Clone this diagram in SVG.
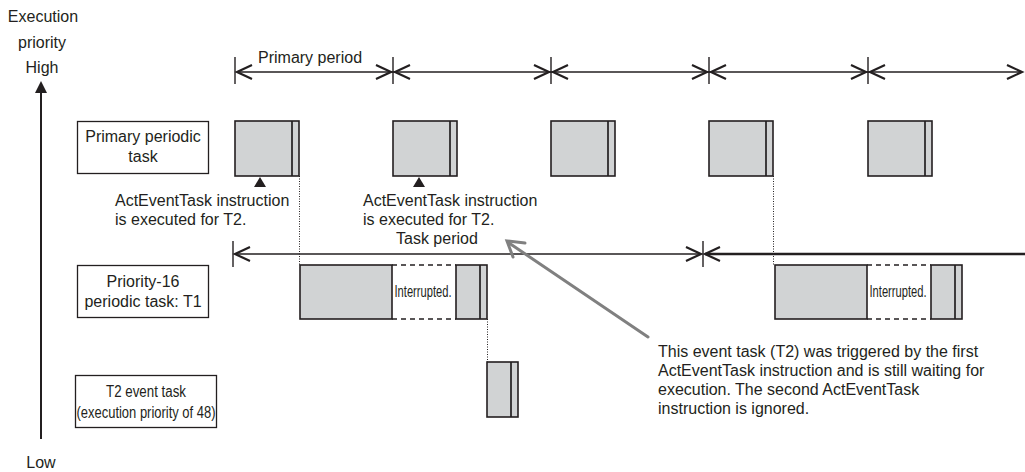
<svg xmlns="http://www.w3.org/2000/svg" width="1025" height="472" viewBox="0 0 1025 472">
<defs>
<style>
text{font-family:"Liberation Sans",Arial,Helvetica,sans-serif;font-size:16px;fill:#231f20}
.c{text-anchor:middle}
.lbl{fill:#fff;stroke:#231f20;stroke-width:1.3}
.blk{fill:#d1d3d4;stroke:#231f20;stroke-width:1.6}
.ln{stroke:#231f20;stroke-width:1.7;fill:none}
.tick{stroke:#231f20;stroke-width:1.4}
.dot{stroke:#231f20;stroke-width:1;stroke-dasharray:1 1.5;fill:none}
.dash{stroke:#231f20;stroke-width:1.3;stroke-dasharray:5 4;fill:none}
.ah{stroke:#231f20;stroke-width:2.2;fill:none}
</style>
<g id="ahR"><path class="ah" d="M-15,-7 L0,0 L-15,7"/></g>
<g id="ahL"><path class="ah" d="M15,-7 L0,0 L15,7"/></g>
<g id="pblk"><rect class="blk" x="0" y="0" width="64" height="55"/><line class="ln" x1="57" y1="0" x2="57" y2="55"/></g>
</defs>

<!-- axis -->
<g id="axis">
<text class="c" x="43" y="22">Execution</text>
<text class="c" x="42" y="48">priority</text>
<text class="c" x="42" y="73">High</text>
<line x1="41" y1="90" x2="41" y2="439" stroke="#231f20" stroke-width="2"/>
<polygon points="41,81 35,93 47,93" fill="#231f20"/>
<text class="c" x="41" y="468">Low</text>
</g>

<!-- labels -->
<g id="lbl-primary">
<rect class="lbl" x="77.5" y="121.5" width="131" height="52"/>
<text class="c" x="143" y="142">Primary periodic</text>
<text class="c" x="143" y="162">task</text>
</g>
<g id="lbl-t1">
<rect class="lbl" x="77.5" y="265.5" width="131" height="52"/>
<text class="c" x="143" y="287">Priority-16</text>
<text class="c" x="143" y="307">periodic task: T1</text>
</g>
<g id="lbl-t2">
<rect class="lbl" x="75.5" y="375.5" width="141" height="52"/>
<text class="c" x="146" y="397" textLength="80" lengthAdjust="spacingAndGlyphs">T2 event task</text>
<text class="c" x="146" y="418" textLength="139" lengthAdjust="spacingAndGlyphs">(execution priority of 48)</text>
</g>

<!-- primary period arrows -->
<g id="primary-period">
<text x="258" y="63">Primary period</text>
<line class="tick" x1="235" y1="57" x2="235" y2="84"/>
<line class="tick" x1="393" y1="57" x2="393" y2="84"/>
<line class="tick" x1="551" y1="57" x2="551" y2="84"/>
<line class="tick" x1="709" y1="57" x2="709" y2="84"/>
<line class="tick" x1="868" y1="57" x2="868" y2="84"/>
<line class="ln" x1="237" y1="72" x2="1022" y2="72"/>
<use href="#ahL" x="237" y="72"/><use href="#ahR" x="391" y="72"/>
<use href="#ahL" x="395" y="72"/><use href="#ahR" x="549" y="72"/>
<use href="#ahL" x="553" y="72"/><use href="#ahR" x="707" y="72"/>
<use href="#ahL" x="711" y="72"/><use href="#ahR" x="866" y="72"/>
<use href="#ahL" x="870" y="72"/><use href="#ahR" x="1022" y="72"/>
</g>

<!-- primary blocks -->
<g id="primary-blocks">
<use href="#pblk" x="235" y="121"/>
<use href="#pblk" x="393" y="121"/>
<use href="#pblk" x="551" y="121"/>
<use href="#pblk" x="709" y="121"/>
<use href="#pblk" x="868" y="121"/>
</g>

<!-- ActEventTask annotations -->
<g id="act1">
<polygon points="260,177 254,187 266,187" fill="#231f20"/>
<text x="115" y="206">ActEventTask instruction</text>
<text x="115" y="225">is executed for T2.</text>
</g>
<g id="act2">
<polygon points="419,177 413,187 425,187" fill="#231f20"/>
<text x="363" y="206">ActEventTask instruction</text>
<text x="363" y="225">is executed for T2.</text>
</g>

<!-- task period -->
<g id="task-period">
<text x="396" y="244">Task period</text>
<line class="tick" x1="233" y1="241" x2="233" y2="267"/>
<line class="tick" x1="703" y1="241" x2="703" y2="267"/>
<line class="ln" x1="235" y1="254" x2="701" y2="254"/>
<line x1="705" y1="254" x2="1025" y2="254" stroke="#231f20" stroke-width="2.4"/>
<use href="#ahL" x="235" y="254"/>
<use href="#ahR" x="701" y="254"/>
<use href="#ahL" x="705" y="254"/>
</g>

<!-- T1 blocks -->
<g id="t1-run1">
<rect class="blk" x="300" y="265" width="92" height="54"/>
<line class="dash" x1="392" y1="265" x2="456" y2="265"/>
<line class="dash" x1="392" y1="319" x2="456" y2="319"/>
<text class="c" x="423" y="297" textLength="57" lengthAdjust="spacingAndGlyphs">Interrupted.</text>
<rect class="blk" x="456" y="265" width="31" height="54"/>
<line class="ln" x1="480" y1="265" x2="480" y2="319"/>
</g>
<g id="t1-run2">
<rect class="blk" x="775" y="265" width="92" height="54"/>
<line class="dash" x1="867" y1="265" x2="931" y2="265"/>
<line class="dash" x1="867" y1="319" x2="931" y2="319"/>
<text class="c" x="898" y="297" textLength="57" lengthAdjust="spacingAndGlyphs">Interrupted.</text>
<rect class="blk" x="931" y="265" width="31" height="54"/>
<line class="ln" x1="955" y1="265" x2="955" y2="319"/>
</g>

<!-- T2 block -->
<g id="t2-run">
<rect class="blk" x="487" y="362" width="31" height="55"/>
<line class="ln" x1="511" y1="362" x2="511" y2="417"/>
</g>

<!-- connectors -->
<g id="connectors">
<line class="dot" x1="299.5" y1="176" x2="299.5" y2="265"/>
<line class="dot" x1="773.5" y1="176" x2="773.5" y2="265"/>
<line class="dot" x1="487.5" y1="319" x2="487.5" y2="362"/>
<g stroke="#808080" stroke-width="3" fill="none" stroke-linecap="round">
<line x1="648" y1="337" x2="509" y2="243"/>
<path d="M525,243 L507,241 L513,257"/>
</g>
</g>

<!-- note -->
<g id="note">
<text x="658" y="357">This event task (T2) was triggered by the first</text>
<text x="658" y="376">ActEventTask instruction and is still waiting for</text>
<text x="658" y="395">execution. The second ActEventTask</text>
<text x="658" y="414">instruction is ignored.</text>
</g>
</svg>
